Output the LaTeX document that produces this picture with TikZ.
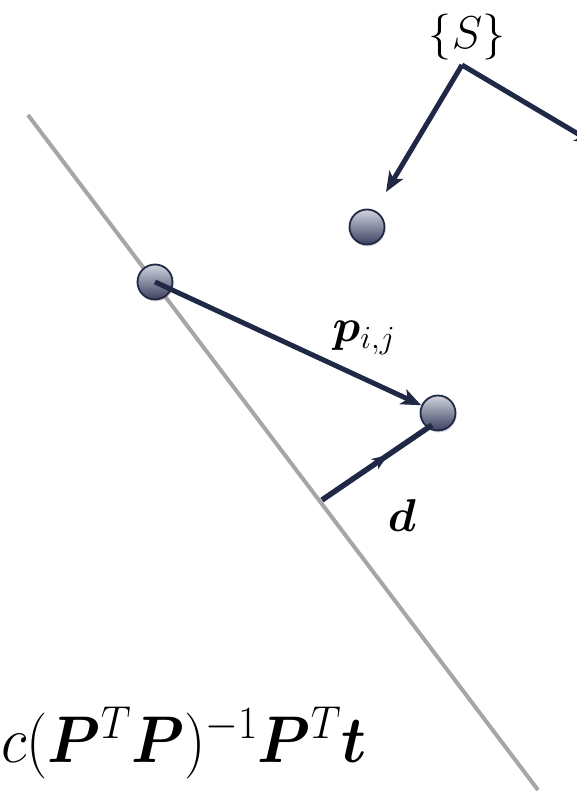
\documentclass[tikz,border=0pt]{standalone}
\usepackage{fix-cm}
\usepackage{amsmath,bm}
\usetikzlibrary{arrows.meta,shadows,decorations.markings}
\definecolor{navy}{HTML}{1F2845}
\definecolor{axisgray}{HTML}{A6A6A6}
\definecolor{balltop}{HTML}{D2D4DE}
\definecolor{ballbot}{HTML}{3A4060}
\tikzset{
  ball/.style={circle, minimum size=35pt, inner sep=0pt, draw=navy, line width=1.8pt,
    top color=balltop, bottom color=ballbot,
    drop shadow={opacity=0.25, shadow xshift=1pt, shadow yshift=-2pt}},
  vec/.style={draw=navy, line width=5pt, -{Stealth[length=20pt,width=16pt,inset=5pt]}},
  midvec/.style={draw=navy, line width=5.5pt,
    postaction={decorate, decoration={markings,
      mark=at position 0.6 with {\arrow{Stealth[length=16pt,width=12pt,inset=4pt]}}}}},
  lbl/.style={inner sep=0pt, font=\fontsize{46}{52}\selectfont},
  gline/.style={draw=axisgray, line width=4pt}
}
\begin{document}
\begin{tikzpicture}[x=1pt,y=-1pt]
\useasboundingbox (0,0) rectangle (577,794);
\clip (0,0) rectangle (577,794);
% gray line
\coordinate (g1) at (28,115);
\coordinate (g2) at (538,790);
\draw[gline] (g1) -- (g2);
% balls
\node[ball] (b1) at (367,227) {};
\node[ball] (b2) at (155,282) {};
\node[ball] (b3) at (438,413) {};
% {S} and its arrows
\node[inner sep=0pt, font=\fontsize{46}{52}\selectfont] (S) at (467,37) {$\{S\}$};
\coordinate (c) at (462,65);
\coordinate (tipS) at (386,192);
\coordinate (tipR) at (595,144);
\draw[vec] (c) -- (tipS);
\draw[vec] (c) -- (tipR);
% p vector
\draw[vec] (b2.center) -- (b3);
\node[lbl] (p) at (364,338) {$\bm{p}_{i,j}$};
% d vector
\coordinate (dfoot) at (322,500);
\coordinate (dhead) at (432,425);
\draw[midvec] (dfoot) -- (dhead);
\node[lbl] (d) at (402,516) {$\bm{d}$};
% formula
\node[inner sep=0pt, anchor=base west, font=\fontsize{66}{74}\selectfont] (f) at (1,762)
  {\scalebox{0.91}[1]{$c(\bm{P}^T\bm{P})^{-1}\bm{P}^T\bm{t}$}};
\end{tikzpicture}
\end{document}
